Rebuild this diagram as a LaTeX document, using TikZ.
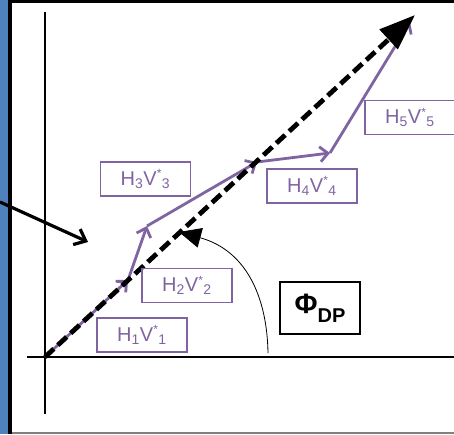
\documentclass[tikz,border=0pt]{standalone}
\usepackage{fontspec}
\setmainfont{Liberation Sans}
\usepackage{xcolor}
\usetikzlibrary{arrows.meta,calc}
\definecolor{vpurple}{RGB}{128,100,162}
\definecolor{slideblue}{RGB}{79,129,189}

\begin{document}
\begin{tikzpicture}[x=1pt,y=-1pt,
  vec/.style={vpurple,line width=2.8pt,-{Straight Barb[length=8pt,width=15pt]}},
  vbox/.style={draw=vpurple,text=vpurple,line width=1.2pt,minimum width=90pt,minimum height=34pt,inner sep=0pt,font=\fontsize{20}{22}\selectfont},
  axis/.style={line width=1.3pt}]
\useasboundingbox (0,0) rectangle (454,434);
% slide frame
\fill[slideblue] (0,0) rectangle (9,434);
\draw[line width=3.5pt] (10,0) -- (10,434);
\draw[line width=3pt] (10,1.5) -- (454,1.5);
\draw[gray,line width=1.5pt] (12,433) -- (454,433);
% axes
\coordinate (O) at (45,357);
\draw[axis] (45,12) -- (45,414);
\draw[axis] (27,357) -- (454,357);
% vector sum
\coordinate (p1) at (128,280);
\coordinate (p2) at (147,226);
\coordinate (p3) at (257,162);
\coordinate (p4) at (330,153);
\coordinate (p5) at (410,22);
\draw[vec] (O) -- (p1);
\draw[vec] (p1) -- (p2);
\draw[vec] (p2) -- (p3);
\draw[vec] (p3) -- (p4);
\draw[vec] (p4) -- (p5);
% resultant
\coordinate (tip) at (415,15);
\draw[line width=4.8pt,dash pattern=on 12pt off 5.5pt,-{Triangle[length=36pt,width=26pt]}] (O) -- (tip);
% angle
\coordinate (a0) at (268,353);
\coordinate (a1) at (179,232);
\draw[line width=0.8pt,-{Triangle[length=22pt,width=20pt]}] (a0) .. controls (267,295) and (245,250) .. (a1);
% pointer from left
\coordinate (in) at (0,202);
\coordinate (inend) at (88,242);
\draw[line width=3.2pt,-{Straight Barb[length=10pt,width=17pt]}] (in) -- (inend);
% labels
\node[vbox] (h1) at (142,335) {H\textsubscript{1}V\textsuperscript{\large*}\textsubscript{1}};
\node[vbox] (h2) at (187,285.5) {H\textsubscript{2}V\textsuperscript{\large*}\textsubscript{2}};
\node[vbox] (h3) at (145.5,179) {H\textsubscript{3}V\textsuperscript{\large*}\textsubscript{3}};
\node[vbox] (h4) at (312,186) {H\textsubscript{4}V\textsuperscript{\large*}\textsubscript{4}};
\node[vbox] (h5) at (410,117.5) {H\textsubscript{5}V\textsuperscript{\large*}\textsubscript{5}};
\node[draw,line width=1.3pt,minimum width=80pt,minimum height=52pt,inner sep=0pt,font=\bfseries] (phi) at (320,308)
  {{\fontsize{28}{30}\selectfont Φ}\raisebox{-9pt}{\fontsize{20}{22}\selectfont DP}};
\end{tikzpicture}
\end{document}
